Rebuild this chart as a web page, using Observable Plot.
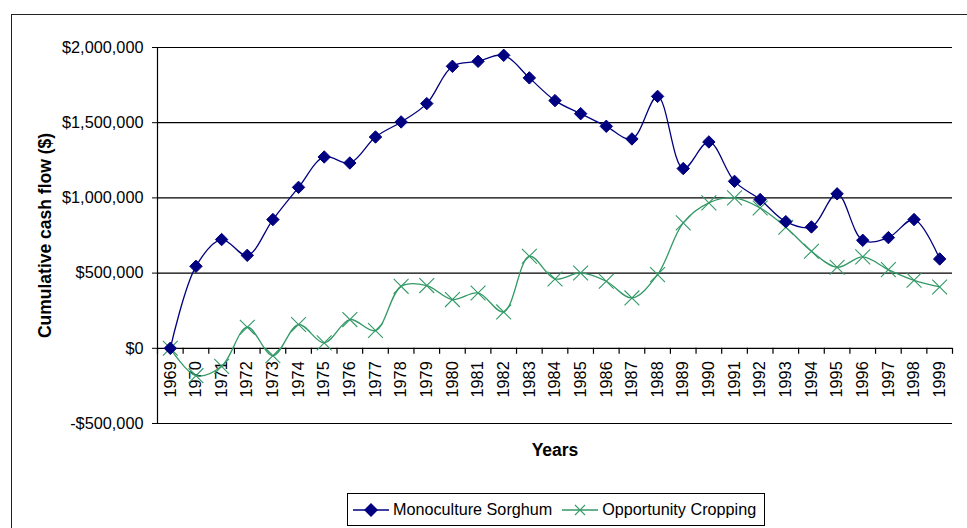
<!DOCTYPE html>
<html>
<head>
<meta charset="utf-8">
<script src="https://cdn.jsdelivr.net/npm/d3@7"></script>
<script src="https://cdn.jsdelivr.net/npm/@observablehq/plot@0.6"></script>
<style>
  html, body { margin: 0; padding: 0; background: #fff; overflow: hidden; }
  #wrap { position: relative; width: 967px; height: 528px; font-family: "Liberation Sans", Arial, sans-serif; }
  #frame { position: absolute; left: 11px; top: 14px; width: 1000px; height: 600px; border-left: 1.5px solid #222; border-top: 1.5px solid #222; }
  #chart { position: absolute; left: 0; top: 0; }
  #legend { position: absolute; left: 347px; top: 493px; width: 416px; height: 31px; border: 1px solid #000; background: #fff;
            display: flex; align-items: center; font-size: 16.2px; color: #000; box-sizing: content-box; white-space: nowrap; }
  .item { display: flex; align-items: center; margin-left: 5px; }
  .item + .item { margin-left: 10px; }
  .item svg { margin-right: 4px; }
</style>
</head>
<body>
<div id="wrap">
  <div id="frame"></div>
  <div id="chart"></div>
  <div id="legend"></div>
</div>
<script>
const years = d3.range(1969, 2000);
const seriesNames = ["Monoculture Sorghum", "Opportunity Cropping"];
const sorghum = [0, 545000, 723000, 618000, 856000, 1070000, 1272000, 1232000, 1405000, 1505000, 1627000,
  1875000, 1908000, 1948000, 1798000, 1647000, 1560000, 1476000, 1392000, 1675000, 1195000,
  1372000, 1110000, 989000, 842000, 807000, 1027000, 718000, 736000, 856000, 594000];
const opportunity = [0, -182000, -120000, 140000, -49000, 158000, 36000, 191000, 118000, 412000, 417000,
  324000, 368000, 242000, 612000, 461000, 501000, 446000, 335000, 490000, 834000,
  967000, 1000000, 933000, 805000, 645000, 539000, 608000, 523000, 452000, 408000];
const yTicks = [-500000, 0, 500000, 1000000, 1500000, 2000000];
const colors = ["#000080", "#339966"];

const fmt = v => (v < 0 ? "-$" : "$") + d3.format(",")(Math.abs(v));
const rows = [];
years.forEach((yr, i) => {
  rows.push({year: yr, value: sorghum[i], series: seriesNames[0]});
  rows.push({year: yr, value: opportunity[i], series: seriesNames[1]});
});
const bounds = d3.range(years.length + 1).map(i => years[0] - 0.5 + i);
const FONT = '"Liberation Sans", Arial, sans-serif';

const plot = Plot.plot({
  width: 967,
  height: 528,
  marginTop: 47,
  marginLeft: 157,
  marginRight: 15,
  marginBottom: 105,
  style: {fontFamily: FONT, fontSize: "16.3px", color: "#000", background: "transparent"},
  x: {domain: [bounds[0], bounds[bounds.length - 1]], axis: null},
  y: {domain: [yTicks[0], yTicks[yTicks.length - 1]], ticks: yTicks, tickFormat: fmt, tickSize: 5, tickPadding: 9, label: null},
  color: {domain: seriesNames, range: colors},
  marks: [
    Plot.ruleY(yTicks, {stroke: "#000", strokeWidth: 1.2}),
    Plot.ruleX([bounds[0]], {stroke: "#000", strokeWidth: 1.2}),
    Plot.ruleX(bounds, {x: d => d, y1: () => 0, y2: () => 0, insetTop: 0, insetBottom: -6, stroke: "#000", strokeWidth: 1.2}),
    Plot.text(years, {x: d => d, y: () => 0, text: d => String(d), rotate: -90, textAnchor: "end", dy: 13, fontSize: 16.3}),
    Plot.line(rows.filter(d => d.series === seriesNames[1]), {x: "year", y: "value", stroke: colors[1], strokeWidth: 1.3, curve: "catmull-rom"}),
    Plot.dot(rows.filter(d => d.series === seriesNames[1]), {x: "year", y: "value", symbol: "times", r: 6.8, stroke: colors[1], strokeWidth: 1.1}),
    Plot.line(rows.filter(d => d.series === seriesNames[0]), {x: "year", y: "value", stroke: colors[0], strokeWidth: 1.3, curve: "catmull-rom"}),
    Plot.dot(rows.filter(d => d.series === seriesNames[0]), {x: "year", y: "value", symbol: "diamond2", r: 5.6, fill: colors[0], stroke: colors[0], strokeWidth: 1}),
    Plot.text(["Years"], {frameAnchor: "bottom", dy: 32, fontWeight: "bold", fontSize: 17.5}),
    Plot.text(["Cumulative cash flow ($)"], {frameAnchor: "left", textAnchor: "middle", rotate: -90, dx: -112, fontWeight: "bold", fontSize: 17.5})
  ]
});
document.getElementById("chart").appendChild(plot);

// legend
const legend = document.getElementById("legend");
seriesNames.forEach((name, i) => {
  const item = document.createElement("div");
  item.className = "item";
  const sym = i === 0
    ? `<polygon points="18,1 25,8 18,15 11,8" fill="${colors[0]}"/>`
    : `<path d="M13,3 L23,13 M23,3 L13,13" stroke="${colors[1]}" stroke-width="1.1"/>`;
  item.innerHTML = `<svg width="36" height="16"><line x1="0" y1="8" x2="36" y2="8" stroke="${colors[i]}" stroke-width="1.3"/>${sym}</svg><span>${name}</span>`;
  legend.appendChild(item);
});
</script>
</body>
</html>
